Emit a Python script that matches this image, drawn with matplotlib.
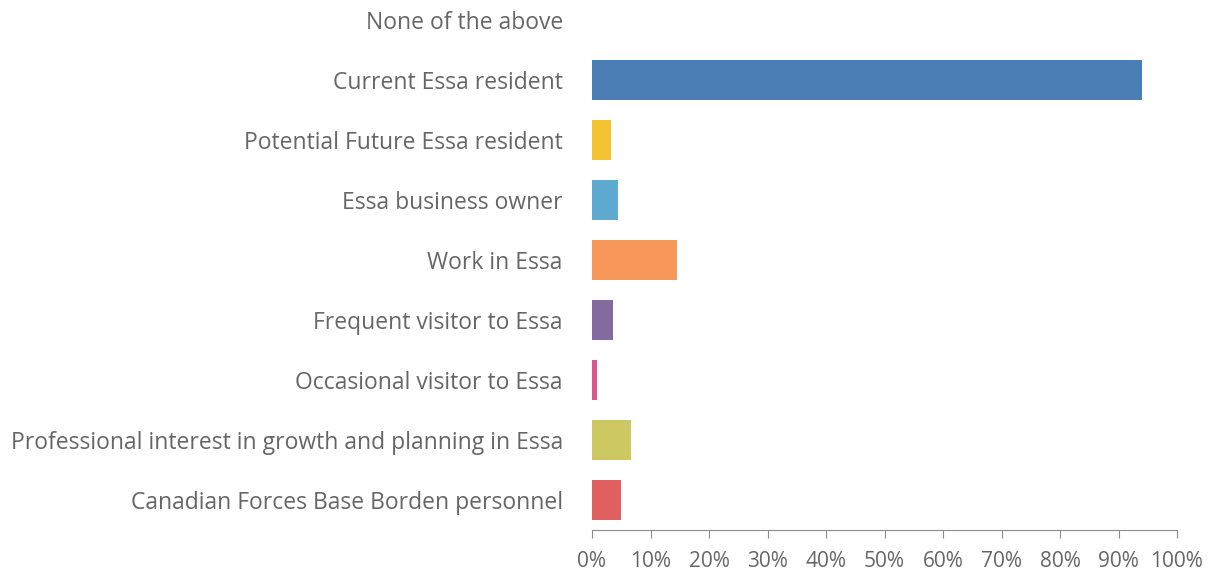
import matplotlib.pyplot as plt
from matplotlib.ticker import MultipleLocator, PercentFormatter

# Respondent groups, top to bottom
categories = [
    "None of the above",
    "Current Essa resident",
    "Potential Future Essa resident",
    "Essa business owner",
    "Work in Essa",
    "Frequent visitor to Essa",
    "Occasional visitor to Essa",
    "Professional interest in growth and planning in Essa",
    "Canadian Forces Base Borden personnel",
]
shares = [0.0, 94.0, 3.2, 4.4, 14.5, 3.6, 0.9, 6.6, 5.0]
bar_colors = ["#4f81bd", "#4a7eb4", "#f2c230", "#5eaad0", "#f7975a",
              "#846a9e", "#d9578a", "#cdc862", "#e05f5f"]

plt.rcParams['font.family'] = ['Open Sans', 'DejaVu Sans']

fig = plt.figure(figsize=(12.17, 5.77), dpi=100)
ax = fig.add_axes([592 / 1217, 1 - 530 / 577, 585 / 1217, 540 / 577])

y = list(range(len(categories)))
ax.barh(y, shares, height=0.66, color=bar_colors)

ax.set_ylim(len(categories) - 0.5, -0.5)
ax.set_xlim(0, 100)
ax.set_yticks(y)
ax.set_yticklabels(categories, fontsize=16.5, color="#666666")
ax.tick_params(axis='y', length=0, pad=21)

ax.xaxis.set_major_locator(MultipleLocator(10))
ax.xaxis.set_major_formatter(PercentFormatter(decimals=0))
ax.tick_params(axis='x', length=6, color="#8c8c8c", labelsize=15,
               labelcolor="#666666", pad=9)

for side in ("top", "right", "left"):
    ax.spines[side].set_visible(False)
ax.spines["bottom"].set_color("#8c8c8c")

fig.savefig("out.png", dpi=100)
